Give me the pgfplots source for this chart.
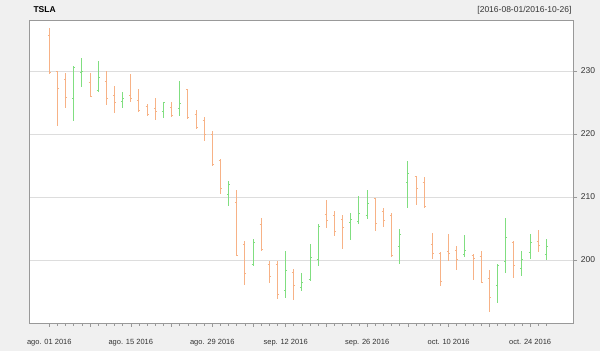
\documentclass[border=0pt]{standalone}
\usepackage{fontspec}
\setmainfont{Liberation Sans}
\usepackage{pgfplots}
\pgfplotsset{compat=1.18}
\usepackage{pgfplotstable}
\definecolor{bg}{HTML}{F0F0F0}
\definecolor{upc}{HTML}{80DE80}
\definecolor{dnc}{HTML}{F7B286}
\definecolor{framec}{HTML}{999999}
\definecolor{gridc}{HTML}{DDDDDD}
\definecolor{txt}{HTML}{333333}

\pgfdeclareplotmark{openl}{\pgfpathmoveto{\pgfpoint{-\pgfplotmarksize}{0pt}}\pgfpathlineto{\pgfpointorigin}\pgfusepathqstroke}
\pgfdeclareplotmark{closer}{\pgfpathmoveto{\pgfpointorigin}\pgfpathlineto{\pgfpoint{\pgfplotmarksize}{0pt}}\pgfusepathqstroke}

\pgfplotstableread{
i O H L C
3 225.7 230.8 222.1 230.6
4 229.8 232.0 227.5 230.0
6 226.9 231.6 226.7 229.0
9 225.2 226.7 224.1 225.6
14 223.6 225.1 222.5 225.0
16 224.0 228.4 222.9 224.8
22 210.4 212.5 208.6 212.0
25 199.3 203.3 199.0 202.8
29 195.1 201.4 194.0 198.3
31 195.7 197.9 195.0 196.4
32 196.9 202.6 196.6 200.4
33 200.1 205.7 199.0 205.4
37 206.0 207.4 203.1 206.4
38 206.1 210.2 205.7 207.4
39 207.0 211.1 206.5 209.0
43 202.2 204.9 199.4 204.0
44 212.3 215.7 208.2 213.7
51 200.9 204.0 200.4 201.5
55 196.0 199.4 193.2 199.1
56 199.7 206.7 198.0 203.6
58 198.7 201.5 197.5 200.1
59 201.2 204.1 200.1 202.8
61 200.9 203.3 200.0 202.2
}\upbars

\pgfplotstableread{
i O H L C
0 235.6 236.8 229.5 229.8
1 229.9 230.0 221.3 227.3
2 228.7 229.7 224.2 225.8
5 228.2 229.7 225.9 226.0
7 228.3 230.0 224.6 225.7
8 226.2 227.6 223.4 225.0
10 226.2 229.5 225.0 225.6
11 225.4 227.1 223.6 223.7
12 224.3 224.8 222.8 223.1
13 224.0 225.7 222.2 223.6
15 224.2 225.0 222.7 223.0
17 227.0 227.1 222.3 222.6
18 223.1 223.8 220.9 221.0
19 222.2 222.7 218.9 220.0
20 220.0 220.4 214.9 215.2
21 215.8 216.1 210.5 211.4
23 209.1 211.1 200.6 200.8
24 202.4 203.0 196.1 197.8
26 205.6 206.6 201.4 201.7
27 199.3 199.8 196.4 197.4
28 199.3 199.8 193.8 194.5
30 198.0 198.5 193.6 196.0
34 207.3 209.5 205.0 206.3
35 207.0 207.7 203.8 204.6
36 206.5 207.2 201.7 205.2
40 209.7 209.9 204.6 205.8
41 207.7 208.2 205.2 206.3
42 207.0 207.4 200.6 200.7
45 213.2 213.3 208.8 211.4
46 212.3 213.2 208.2 208.5
47 202.5 204.3 200.1 201.0
48 201.0 201.3 195.9 196.6
49 201.3 204.2 199.8 201.0
50 201.5 202.2 198.4 200.1
52 200.7 200.9 196.9 200.2
53 200.6 201.5 196.3 196.5
54 197.1 198.4 191.8 194.0
57 202.8 203.0 197.1 199.1
60 202.9 204.7 201.2 202.3
}\dnbars

\begin{document}
\begin{tikzpicture}[x=1pt,y=1pt]
\useasboundingbox (0,0) rectangle (600,351);
\fill[bg] (0,0) rectangle (600,351);
\begin{axis}[
  at={(36,44.5)}, anchor=south west,
  scale only axis, width=544pt, height=303pt,
  xmin=-2.45, xmax=64.3, ymin=190, ymax=238.1,
  axis background/.style={fill=white},
  axis line style={framec, line width=0.8pt},
  tick align=outside,
  xtick pos=bottom, ytick pos=right, yticklabel pos=right,
  ytick={200,210,220,230},
  ymajorgrids, grid style={gridc, line width=0.6pt},
  xtick={0,5,10,15,20,25,29,34,39,44,49,54,59},
  xticklabels={ago. 01 2016,,ago. 15 2016,,ago. 29 2016,,sep. 12 2016,,sep. 26 2016,,oct. 10 2016,,oct. 24 2016},
  minor xtick={0,1,...,61},
  major tick length=4pt, minor tick length=3pt,
  tick style={framec, line width=0.6pt},
  x tick label style={font=\fontsize{7.5}{8}\selectfont, text=txt, yshift=-8.5pt},
  y tick label style={font=\fontsize{8.5}{9}\selectfont, text=txt},
  /pgf/number format/assume math mode=true,
  clip=false,
]
\addplot[draw=none, mark=none, forget plot,
  error bars/.cd, y dir=both, y explicit, error mark=none,
  error bar style={dnc, line width=1pt}]
  table[x=i, y=C, y error plus expr=\thisrow{H}-\thisrow{C}, y error minus expr=\thisrow{C}-\thisrow{L}] {\dnbars};
\addplot[draw=none, mark=none, forget plot,
  error bars/.cd, y dir=both, y explicit, error mark=none,
  error bar style={upc, line width=1pt}]
  table[x=i, y=C, y error plus expr=\thisrow{H}-\thisrow{C}, y error minus expr=\thisrow{C}-\thisrow{L}] {\upbars};
\addplot[only marks, mark=openl, mark size=1.5pt, dnc, mark options={line width=0.8pt}] table[x=i, y=O] {\dnbars};
\addplot[only marks, mark=closer, mark size=1.5pt, dnc, mark options={line width=0.8pt}] table[x=i, y=C] {\dnbars};
\addplot[only marks, mark=openl, mark size=1.5pt, upc, mark options={line width=0.8pt}] table[x=i, y=O] {\upbars};
\addplot[only marks, mark=closer, mark size=1.5pt, upc, mark options={line width=0.8pt}] table[x=i, y=C] {\upbars};
\end{axis}
\node[anchor=base west, font=\bfseries\fontsize{8.5}{9}\selectfont] at (30,338) {TSLA};
\node[anchor=base east, font=\fontsize{8.5}{9}\selectfont, text=txt] at (575,338) {[2016-08-01/2016-10-26]};
\end{tikzpicture}
\end{document}
